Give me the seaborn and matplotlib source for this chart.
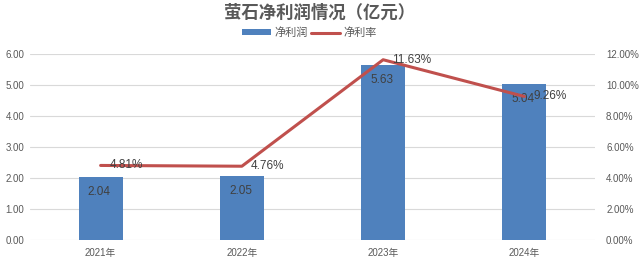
import matplotlib
matplotlib.use("Agg")
import matplotlib.pyplot as plt
import seaborn as sns
import pandas as pd
from matplotlib.patches import Patch
from matplotlib.lines import Line2D

years = ["2021年", "2022年", "2023年", "2024年"]
net_profit = [2.04, 2.05, 5.63, 5.04]
net_margin = [4.81, 4.76, 11.63, 9.26]
left_ticks = [0, 1, 2, 3, 4, 5, 6]
right_ticks = [0, 2, 4, 6, 8, 10, 12]

sns.set_theme(style="white")
plt.rcParams['font.family'] = ['Liberation Sans', 'Noto Sans CJK SC', 'DejaVu Sans']

df = pd.DataFrame({"year": years, "profit": net_profit, "margin": net_margin})

BLUE = "#4F81BD"
RED = "#C0504D"
TXT = "#595959"
LBL = "#404040"

fig = plt.figure(figsize=(6.4, 2.6), dpi=100)
ax = fig.add_axes([30/640, 1-240/260, 565/640, 186/260])

sns.barplot(data=df, x="year", y="profit", color=BLUE, width=0.31, ax=ax,
            saturation=1, edgecolor="none")
ax.set_ylim(0, 6)
ax.set_xlim(-0.5, 3.5)
ax.set_yticks(left_ticks)
ax.set_yticklabels([f"{v:.2f}" for v in left_ticks], fontsize=7, color=TXT)
ax.set_xlabel("")
ax.set_ylabel("")
ax.tick_params(axis="x", labelsize=7, colors=TXT, length=0, pad=6)
ax.tick_params(axis="y", length=0, pad=4)
ax.grid(axis="y", color="#D9D9D9", linewidth=0.8)
ax.set_axisbelow(True)
for s in ax.spines.values():
    s.set_visible(False)

for i, v in enumerate(net_profit):
    ax.text(i - 0.01, v - 0.48, f"{v:.2f}", ha="center", va="center", fontsize=8.5, color=LBL)

ax2 = ax.twinx()
sns.lineplot(data=df, x="year", y="margin", color=RED, linewidth=2.2, ax=ax2, sort=False)
ax2.set_ylim(0, 12)
ax2.set_yticks(right_ticks)
ax2.set_yticklabels([f"{v:.2f}%" for v in right_ticks], fontsize=7, color=TXT)
ax2.set_ylabel("")
ax2.set_xlabel("")
ax2.tick_params(axis="y", length=0, pad=8)
for s in ax2.spines.values():
    s.set_visible(False)
for i, v in enumerate(net_margin):
    ax2.text(i + 0.065, v, f"{v:.2f}%", ha="left", va="center", fontsize=8.5, color=LBL)

fig.text(0.5, 1-13/260, "萤石净利润情况（亿元）", ha="center", va="center",
         fontsize=12.5, fontweight="bold", color=TXT, family=['Noto Sans CJK SC', 'DejaVu Sans'])

handles = [Patch(facecolor=BLUE, edgecolor="none"),
           Line2D([0], [0], color=RED, linewidth=2.2)]
fig.legend(handles, ["净利润", "净利率"], loc="center", bbox_to_anchor=(0.483, 1-33/260),
           ncol=2, frameon=False, fontsize=8, handlelength=2.6, handleheight=0.45,
           columnspacing=0.3, handletextpad=0.3, labelcolor=TXT)

fig.savefig("out.png", dpi=100)
